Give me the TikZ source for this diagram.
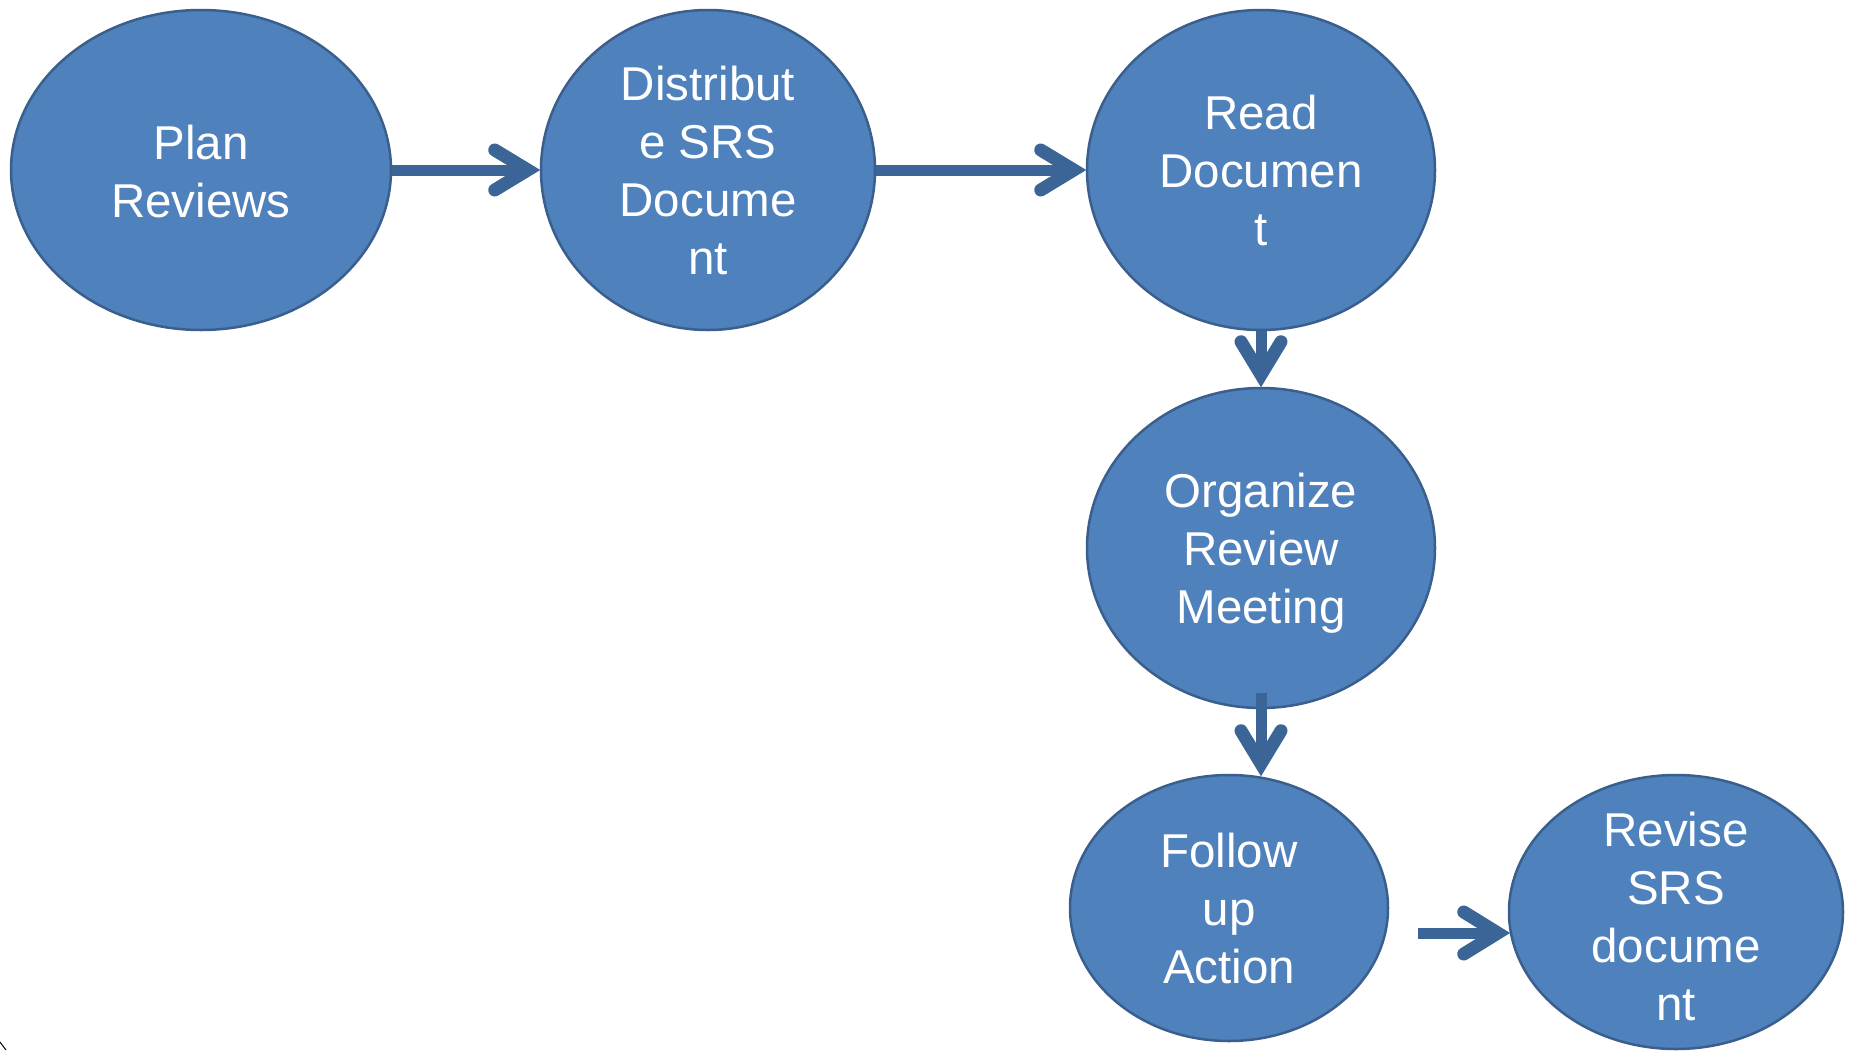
\documentclass[tikz,border=0pt]{standalone}
\usepackage{fontspec}
\setmainfont{Liberation Sans}
\usetikzlibrary{shapes.geometric,calc}
\definecolor{stepfill}{HTML}{4F81BD}
\definecolor{stepline}{HTML}{3A5F8C}
\definecolor{flow}{HTML}{3B6597}

\begin{document}
\begin{tikzpicture}[x=1pt,y=-1pt,
  stage/.style={ellipse, draw=stepline, line width=2.5pt, fill=stepfill, inner sep=0pt},
  stagetext/.style={text=white, inner sep=0pt, align=center,
    font=\fontsize{47.5}{58}\selectfont},
  shaft/.style={draw=flow, line width=11pt, shorten >=14pt},
  chevron/.style={draw=flow, line width=13pt, line cap=round, line join=miter, miter limit=10}]

\useasboundingbox (0,0) rectangle (1856,1050);

% process steps
\node[stage, minimum width=380pt, minimum height=320pt] (plan)   at (201,170)  {};
\node[stage, minimum width=334pt, minimum height=320pt] (dist)   at (708,170)  {};
\node[stage, minimum width=348pt, minimum height=320pt] (read)   at (1261,170) {};
\node[stage, minimum width=348pt, minimum height=320pt] (org)    at (1261,548) {};
\node[stage, minimum width=318pt, minimum height=266pt] (follow) at (1229,908) {};
\node[stage, minimum width=334pt, minimum height=274pt] (revise) at (1676,912) {};

\node[stagetext] (planText)   at ($(plan)+(0,2)$)   {Plan\\Reviews};
\node[stagetext] (distText)   at (dist)   {Distribut\\e SRS\\Docume\\nt};
\node[stagetext] (readText)   at (read)   {Read\\Documen\\t};
\node[stagetext] (orgText)    at ($(org)+(0,5)$)    {Organize\\Review\\Meeting};
\node[stagetext] (followText) at ($(follow)+(0,1)$) {Follow\\up\\Action};
\node[stagetext] (reviseText) at ($(revise)+(0,4)$) {Revise\\SRS\\docume\\nt};

% Plan -> Distribute
\draw[shaft] (plan) -- (dist);
\draw[chevron] ($(dist.west)+(-45,-20)$) -- ($(dist.west)+(-12,0)$) -- ($(dist.west)+(-45,20)$);

% Distribute -> Read
\draw[shaft] (dist) -- (read);
\draw[chevron] ($(read.west)+(-45,-20)$) -- ($(read.west)+(-12,0)$) -- ($(read.west)+(-45,20)$);

% Read -> Organize
\draw[shaft] (read) -- (org);
\draw[chevron] ($(org.north)+(-20,-45)$) -- ($(org.north)+(0,-12)$) -- ($(org.north)+(20,-45)$);

% Organize -> Follow up
\coordinate (orgOut) at ($(org.south)+(0,-16)$);
\coordinate (followIn) at ($(follow.north -| org.south)+(0,2)$);
\draw[shaft] (orgOut) -- (followIn);
\draw[chevron] ($(followIn)+(-20,-45)$) -- ($(followIn)+(0,-12)$) -- ($(followIn)+(20,-45)$);

% Follow up -> Revise
\coordinate (followOut) at ($(follow.east)+(29,25)$);
\coordinate (reviseIn) at ($(revise.west |- followOut)+(2,0)$);
\draw[shaft] (followOut) -- (reviseIn);
\draw[chevron] ($(reviseIn)+(-46,-21)$) -- ($(reviseIn)+(-12,0)$) -- ($(reviseIn)+(-46,21)$);

% small mark at the lower left corner
\draw[black, line width=1pt] (0,1042) -- (6,1050);
\end{tikzpicture}
\end{document}
